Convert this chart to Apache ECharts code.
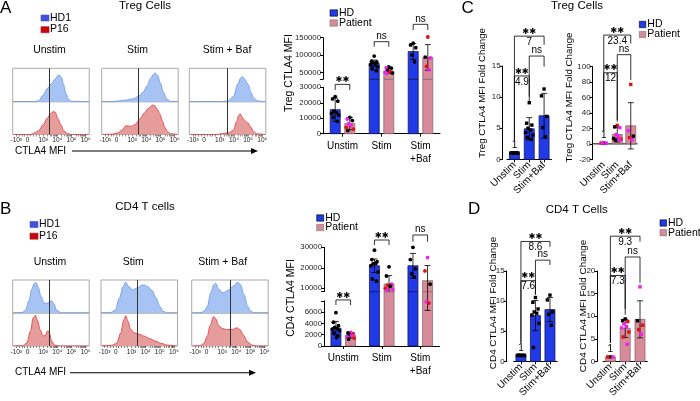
<!DOCTYPE html>
<html>
<head>
<meta charset="utf-8">
<title>CTLA4 MFI</title>
<script src="https://cdn.jsdelivr.net/npm/echarts@6.0.0/dist/echarts.min.js"></script>
<style>
html, body { margin: 0; padding: 0; background: #fff; }
#chart { width: 700px; height: 401px; }
</style>
</head>
<body>
<div id="chart"></div>
<script>
// ---- flow histograms: [position on biexponential CTLA4 axis, relative count]
const histTicks = [1.1, 1.9, 3, 4, 5, 6];
const histTickLabels = ['-10³', '0', '10³', '10⁴', '10⁵', '10⁶'];
const histColumns = ['Unstim', 'Stim', 'Stim + Baf'];
const tregGates = [3.44, 3.42, 3.54];
const cd4Gates = [3.44, 3.4, 3.55];

const tregHD1 = [
  [[0.9,0],[2.4,0],[2.7,0.03],[3.0,0.2],[3.3,0.4],[3.6,0.55],[3.85,0.68],[4.0,0.77],[4.15,0.8],[4.3,0.72],[4.45,0.5],[4.6,0.25],[4.8,0.06],[5.0,0.01],[6.2,0]],
  [[0.9,0],[1.6,0],[2.0,0.02],[2.6,0.05],[3.1,0.09],[3.5,0.18],[3.8,0.3],[4.05,0.47],[4.3,0.7],[4.5,0.82],[4.62,0.86],[4.8,0.78],[5.0,0.55],[5.2,0.28],[5.45,0.08],[5.7,0.01],[6.2,0]],
  [[0.9,0],[3.3,0],[3.6,0.03],[3.95,0.15],[4.3,0.55],[4.45,0.7],[4.6,0.75],[4.75,0.68],[5.0,0.52],[5.2,0.28],[5.4,0.1],[5.7,0.02],[6.2,0]]
];
const tregP16 = [
  [[0.9,0],[2.1,0],[2.4,0.05],[2.7,0.12],[3.0,0.3],[3.3,0.5],[3.5,0.62],[3.7,0.7],[3.85,0.68],[4.05,0.48],[4.25,0.3],[4.45,0.12],[4.7,0.03],[5.0,0],[6.2,0]],
  [[0.9,0],[1.6,0.01],[2.0,0.05],[2.3,0.14],[2.55,0.27],[2.7,0.26],[2.95,0.25],[3.2,0.3],[3.56,0.48],[3.85,0.65],[4.15,0.8],[4.45,0.9],[4.6,0.88],[4.8,0.75],[4.96,0.62],[5.15,0.4],[5.3,0.22],[5.5,0.08],[5.75,0.02],[6.2,0]],
  [[0.9,0],[2.8,0],[3.2,0.03],[3.6,0.05],[3.95,0.12],[4.2,0.4],[4.33,0.58],[4.45,0.63],[4.6,0.52],[4.75,0.42],[5.0,0.35],[5.2,0.22],[5.4,0.08],[5.65,0.02],[6.2,0]]
];
const cd4HD1 = [
  [[0.9,0],[1.5,0.01],[1.75,0.08],[2.0,0.38],[2.2,0.72],[2.35,0.88],[2.49,0.93],[2.65,0.78],[2.85,0.5],[3.05,0.31],[3.2,0.29],[3.4,0.32],[3.6,0.37],[3.75,0.28],[3.96,0.08],[4.3,0],[6.2,0]],
  [[0.9,0],[1.5,0.01],[1.85,0.08],[2.15,0.45],[2.4,0.8],[2.6,0.93],[2.8,0.8],[3.1,0.7],[3.4,0.76],[3.7,0.84],[3.9,0.85],[4.15,0.8],[4.45,0.68],[4.75,0.45],[5.0,0.2],[5.25,0.05],[5.55,0],[6.2,0]],
  [[0.9,0],[1.5,0.01],[1.75,0.06],[1.95,0.2],[2.2,0.62],[2.4,0.85],[2.55,0.9],[2.75,0.72],[3.05,0.61],[3.4,0.68],[3.75,0.8],[4.1,0.93],[4.3,0.85],[4.55,0.55],[4.8,0.2],[5.0,0.06],[5.3,0],[6.2,0]]
];
const cd4P16 = [
  [[0.9,0],[1.6,0.01],[1.85,0.1],[2.1,0.45],[2.3,0.85],[2.45,0.93],[2.6,0.78],[2.8,0.48],[3.0,0.3],[3.15,0.33],[3.33,0.46],[3.45,0.38],[3.6,0.15],[3.8,0.03],[4.1,0],[6.2,0]],
  [[0.9,0.01],[1.6,0.02],[1.95,0.08],[2.25,0.4],[2.45,0.78],[2.6,0.92],[2.75,0.75],[2.95,0.5],[3.2,0.4],[3.5,0.36],[3.9,0.3],[4.3,0.22],[4.7,0.15],[5.1,0.08],[5.5,0.03],[6.0,0.01],[6.2,0]],
  [[0.9,0],[1.4,0.01],[1.7,0.07],[1.95,0.3],[2.15,0.62],[2.4,0.89],[2.55,0.82],[2.75,0.62],[3.0,0.53],[3.3,0.5],[3.7,0.5],[4.05,0.55],[4.25,0.5],[4.5,0.33],[4.8,0.12],[5.1,0.03],[5.4,0],[6.2,0]]
];

// ---- CTLA4 MFI bar charts (mean, SD, individual donors)
const barCats = ['Unstim', 'Stim', 'Stim\n+Baf'];
const tregHdMean = [15500, 76000, 110000];
const tregHdSd = [7500, 9500, 23000];
const tregHdDots = [[24000, 22500, 21000, 14500, 13500, 13000, 12000, 10500, 8000], [97000, 82000, 80000, 78000, 74000, 72000, 66000, 60000, 55000], [134000, 129000, 121000, 100000, 80000]];
const tregPtMean = [6500, 54000, 93000];
const tregPtSd = [4000, 7000, 37000];
const tregPtDots = [[10500, 9500, 8500, 6500, 5500, 4000, 3000, 2000], [66000, 63000, 62000, 56000, 52000, 50000, 48000, 47000], [152000, 94000, 92000, 67000, 57000]];
const tregPtDonor = [[0, 1, 0, 1, 1, 2, 2, 0], [0, 1, 0, 0, 2, 1, 0, 1], [2, 0, 1, 2, 1]];
const tregLowTicks = [0, 10000, 20000, 30000];
const tregHighTicks = [50000, 100000, 150000];

const cd4HdMean = [3150, 21000, 21000];
const cd4HdSd = [1200, 3300, 6000];
const cd4HdDots = [[5900, 4200, 3600, 3300, 3100, 3000, 2700, 2300, 1800, 1500], [28600, 24000, 23000, 22000, 22000, 21000, 18000, 14500, 13500], [30000, 24000, 19500, 17000, 15500]];
const cd4PtMean = [1900, 12100, 13700];
const cd4PtSd = [500, 4100, 7400];
const cd4PtDots = [[2400, 2300, 2200, 2000, 1900, 1600, 1400, 1200], [20500, 16000, 12000, 11500, 11000, 10000, 9500, 9000], [25000, 18500, 12000, 7800, 7600]];
const cd4PtDonor = [[1, 0, 2, 0, 1, 1, 2, 0], [0, 0, 1, 2, 0, 2, 1, 1], [1, 2, 0, 1, 2]];
const cd4LowTicks = [0, 2000, 4000, 6000];
const cd4HighTicks = [10000, 20000, 30000];

// ---- fold change charts
const foldCats = ['Unstim', 'Stim', 'Stim+Baf'];
const tregHdFold = [1, 4.9, 7];
const tregHdFoldSd = [0, 1.8, 3.6];
const tregHdFoldDots = [[1, 1, 1, 1, 1, 1, 1, 1, 1], [9.1, 5.8, 5.5, 5.0, 4.7, 4.3, 3.9, 3.5, 3.2], [11.3, 10.2, 6.9, 5.1, 3.6]];
const tregPtFold = [1, 12, 23.4];
const tregPtFoldSd = [0, 9.6, 30];
const tregPtFoldDots = [[1, 1, 1, 1], [24, 22, 21, 12, 10, 7, 6, 5, 5], [77, 17, 10, 8, 5.5]];
const tregPtFoldDonor = [[0, 2, 1, 1], [2, 0, 1, 1, 1, 0, 2, 0, 1], [2, 1, 0, 2, 1]];
const cd4HdFold = [1, 7.6, 8.6];
const cd4HdFoldSd = [0, 2.5, 2.0];
const cd4HdFoldDots = [[1, 1, 1, 1, 1, 1, 1, 1], [10.6, 9.8, 8.7, 8.2, 8.0, 7.7, 6.3, 2.3], [11.0, 10.2, 8.2, 7.8, 6.0]];
const cd4PtFold = [1, 7.3, 9.3];
const cd4PtFoldSd = [0, 2.0, 4.1];
const cd4PtFoldDots = [[1, 1, 1], [9.4, 9.0, 8.8, 8.3, 7.7, 7.4, 6.5, 5.4, 3.8], [16.5, 9.0, 8.0, 7.0, 6.0]];
const cd4PtFoldDonor = [[0, 2, 1], [0, 0, 2, 1, 1, 1, 2, 2, 1], [1, 0, 2, 2, 1]];
const hdFoldTicks = [0, 5, 10, 15];
const tregPtFoldTicks = [-20, 0, 20, 40, 60, 80, 100];
const cd4PtFoldTicks = [0, 5, 10, 15, 20];

// significance: [fromCat, fromSide, toCat, toSide, line, leftLegEnd, rightLegEnd, mark, foldText]
const tregSigLow = [[0, -1, 0, 1, 31900, 28300, 28300, '**', '']];
const tregSigHigh = [[1, -1, 1, 1, 138500, 124000, 124000, 'ns', ''], [2, -1, 2, 1, 188600, 172200, 172200, 'ns', '']];
const cd4SigLow = [[0, -1, 0, 1, 8150, 7250, 7250, '**', '']];
const cd4SigHigh = [[1, -1, 1, 1, 33550, 31100, 31100, '**', ''], [2, -1, 2, 1, 36000, 32700, 32700, 'ns', '']];
const tregHdSig = [[0, 0, 2, 0, 19.8, 3.1, 18.4, '**', '7'], [1, 0, 2, 0, 16.6, 10.1, 14.9, 'ns', ''], [0, 0, 1, 0, 13.4, 3.1, 9.3, '**', '4.9']];
const tregPtSig = [[0, 0, 2, 0, 141, 18, 130, '**', '23.4'], [1, 0, 2, 0, 115.6, 31, 82.8, 'ns', ''], [0, 0, 1, 0, 92.2, 18, 28.7, '**', '12']];
const cd4HdSig = [[0, 0, 2, 0, 19.9, 3.1, 19.0, '**', '8.6'], [1, 0, 2, 0, 16.8, 11.1, 16.0, 'ns', ''], [0, 0, 1, 0, 13.4, 3.1, 11.1, '**', '7.6']];
const cd4PtSig = [[0, 0, 2, 0, 27.7, 4.1, 26.5, '**', '9.3'], [1, 0, 2, 0, 23.1, 11.6, 17.4, 'ns', ''], [0, 0, 1, 0, 19.0, 4.1, 10.3, '**', '7.3']];

// ---------------------------------------------------------------
const FONT = '"Liberation Sans", Arial, Helvetica, sans-serif';
const STARFONT = '"DejaVu Sans", sans-serif';
const HD_BLUE = '#1f3ae6', HD_EDGE = '#16185a';
const PT_PINK = '#d78b9a', PT_EDGE = '#8a6a72';
const DONOR = ['#000000', '#ee22ee', '#dc1212'];
const BAR_W = 10, CAP = 6, PAIR = 7.3;
const SPREAD = [0, -2.6, 2.6, -1.3, 1.3, -3.6, 3.6, -2, 2, 0.6];

const histMinor = [1.1, 1.3, 1.5, 1.7, 1.9, 2.1, 2.3, 2.5, 2.7];
for (let d = 3; d < 6; d++) for (let k = 1; k < 10; k++) histMinor.push(d + Math.log10(k));
histMinor.push(6);

const grid = [], xAxis = [], yAxis = [], series = [], graphic = [];

function addGrid(rect, xa, ya, boxed) {
  const g = grid.length;
  grid.push({left: rect[0], top: rect[1], width: rect[2], height: rect[3], show: !!boxed,
    borderColor: '#a9a9a9', borderWidth: 1, backgroundColor: 'transparent'});
  xAxis.push(Object.assign({gridIndex: g}, xa));
  yAxis.push(Object.assign({gridIndex: g}, ya));
  return g;
}

function histSeries(g, pts, fill, stroke, gate) {
  return {
    type: 'line', xAxisIndex: g, yAxisIndex: g, data: pts, smooth: 0.35, smoothMonotone: 'x',
    symbol: 'none', silent: true, z: 2,
    lineStyle: {color: stroke, width: 0.9}, areaStyle: {color: fill, opacity: 1},
    markLine: {silent: true, symbol: ['none', 'none'], label: {show: false},
      lineStyle: {color: '#333', width: 1, type: 'solid'}, data: [{xAxis: gate}]}
  };
}

function histPanel(lefts, top, mid, bottom, hd, pt, gates) {
  lefts.forEach((l, k) => {
    const yHidden = {type: 'value', min: 0, max: 1, show: false};
    const g1 = addGrid([l, top, 76.5, mid - top], {type: 'value', min: 0.85, max: 6.25, show: false}, yHidden, true);
    const g2 = addGrid([l, mid, 76.5, bottom - mid], {
      type: 'value', min: 0.85, max: 6.25, splitLine: {show: false}, axisLine: {show: false},
      axisTick: {show: true, customValues: histMinor, length: 2, lineStyle: {color: '#444', width: 0.6}},
      axisLabel: {customValues: histTicks, fontSize: 6.5, margin: 2.5, color: '#222', fontFamily: FONT,
        formatter: v => histTickLabels[histTicks.findIndex(t => Math.abs(t - v) < 1e-6)]}
    }, yHidden, true);
    series.push(histSeries(g1, hd[k], '#a7c3f4', '#6f9de9', gates[k]));
    series.push(histSeries(g2, pt[k], '#e79c9c', '#e0484b', gates[k]));
  });
}

function span(api, s, a, b) {
  if (b <= s.min || a >= s.max) return null;
  const bottom = api.coord([0, Math.max(a, s.min)])[1];
  let top = api.coord([0, Math.min(b, s.max)])[1];
  if (b > s.max) top -= s.gapUp || 0;
  return {top: top, bottom: bottom, capTop: b <= s.max, capBottom: a >= s.min};
}

function textEl(x, y, s, size, family) {
  return {type: 'text', style: {text: s, x: x, y: y, fill: '#000', fontSize: size, fontFamily: family,
    align: 'center', verticalAlign: 'middle', textAlign: 'center', textVerticalAlign: 'middle'}};
}

function barPanel(p) {
  p.segs.forEach((s, si) => {
    const last = si === p.segs.length - 1;
    const g = addGrid(s.rect, {
      type: 'category', data: p.cats, show: si === 0,
      axisLine: {show: !s.noXLine, onZero: false, lineStyle: {color: '#000', width: 1}},
      axisTick: {show: !s.noXLine, alignWithLabel: true, length: 3, lineStyle: {color: '#000', width: 1}},
      axisLabel: {interval: 0, rotate: p.rot || 0, fontSize: p.catFont || 10, margin: p.catMargin || 6,
        lineHeight: 13, color: '#000', fontFamily: FONT}
    }, {
      type: 'value', min: s.min, max: s.max, offset: p.yOffset || 0, splitLine: {show: false},
      axisLine: {show: true, onZero: false, lineStyle: {color: '#000', width: 1}},
      axisTick: {show: true, length: 3, customValues: s.ticks || s.labels, lineStyle: {color: '#000', width: 1}},
      axisLabel: {customValues: s.labels, formatter: v => String(v), fontSize: p.tickFont || 7.8, margin: 2,
        color: '#222', fontFamily: FONT}
    });
    const lo = si === 0 ? -Infinity : p.segs[si - 1].max;
    const hi = last ? Infinity : s.max;
    const off = p.pairOff || 0;
    p.groups.forEach((gr, gi) => {
      // bars
      series.push({
        type: 'custom', xAxisIndex: g, yAxisIndex: g, clip: false, silent: true, z: 2,
        data: gr.mean.map((m, i) => [i, m]),
        renderItem(params, api) {
          const i = api.value(0), m = api.value(1);
          const kids = [];
          const cx = api.coord([i, 0])[0] + gr.side * off;
          if (s.zeroLine && gi === 0 && i === 0) {
            const band = api.size([1, 0])[0];
            const y0 = api.coord([0, 0])[1];
            const xr = api.coord([p.cats.length - 1, 0])[0] + band / 2;
            kids.push({type: 'line', shape: {x1: cx - band / 2 - (p.yOffset || 0), y1: y0, x2: xr, y2: y0},
              style: {stroke: '#000', lineWidth: 1}});
          }
          const sp = span(api, s, 0, m);
          if (sp) {
            kids.push({type: 'rect', shape: {x: cx - BAR_W / 2, y: sp.top, width: BAR_W, height: sp.bottom - sp.top},
              style: {fill: gr.color, stroke: gr.stroke, lineWidth: 0.8}});
            if (p.baseLabel && i === 0) kids.push(textEl(cx, sp.top - 7.5, String(m), 10, FONT));
          }
          return {type: 'group', children: kids};
        }
      });
      // error bars
      series.push({
        type: 'custom', xAxisIndex: g, yAxisIndex: g, clip: false, silent: true, z: 3,
        data: gr.mean.map((m, i) => [i, m, gr.sd[i]]),
        renderItem(params, api) {
          const i = api.value(0), m = api.value(1), sd = api.value(2);
          if (!sd) return null;
          const sp = span(api, s, m - sd, m + sd);
          if (!sp) return null;
          const cx = api.coord([i, 0])[0] + gr.side * off;
          const st = {stroke: '#000', lineWidth: 0.8};
          const kids = [{type: 'line', shape: {x1: cx, y1: sp.bottom, x2: cx, y2: sp.top}, style: st}];
          if (sp.capTop) kids.push({type: 'line', shape: {x1: cx - CAP / 2, y1: sp.top, x2: cx + CAP / 2, y2: sp.top}, style: st});
          if (sp.capBottom) kids.push({type: 'line', shape: {x1: cx - CAP / 2, y1: sp.bottom, x2: cx + CAP / 2, y2: sp.bottom}, style: st});
          return {type: 'group', children: kids};
        }
      });
      // individual donors
      const pts = [];
      gr.dots.forEach((vals, i) => vals.forEach((v, k) => {
        if (v > lo && v <= hi) pts.push([i, v, gr.donor ? gr.donor[i][k] : 0, k]);
      }));
      series.push({
        type: 'custom', xAxisIndex: g, yAxisIndex: g, clip: false, silent: true, z: 4,
        data: pts,
        renderItem(params, api) {
          const i = api.value(0), v = api.value(1), d = api.value(2), k = api.value(3);
          const c = api.coord([i, v]);
          const x = c[0] + gr.side * off + SPREAD[k % SPREAD.length] * (p.spread || 1);
          const fill = DONOR[d];
          if (p.square) return {type: 'rect', shape: {x: x - 1.7, y: c[1] - 1.7, width: 3.4, height: 3.4}, style: {fill: fill}};
          return {type: 'circle', shape: {cx: x, cy: c[1], r: 1.9}, style: {fill: fill}};
        }
      });
    });
    const sig = p.sig[si] || [];
    if (sig.length) {
      series.push({
        type: 'custom', xAxisIndex: g, yAxisIndex: g, clip: false, silent: true, z: 5,
        data: sig.map(b => [b[0], b[4]]),
        renderItem(params, api) {
          const b = sig[params.dataIndex];
          const xa = api.coord([b[0], 0])[0] + b[1] * off;
          const xb = api.coord([b[2], 0])[0] + b[3] * off;
          const yl = api.coord([0, b[4]])[1], ya = api.coord([0, b[5]])[1], yb = api.coord([0, b[6]])[1];
          const xm = (xa + xb) / 2;
          const star = b[7] === '**';
          const kids = [{type: 'polyline', shape: {points: [[xa, ya], [xa, yl], [xb, yl], [xb, yb]]},
            style: {stroke: '#000', lineWidth: 0.8, fill: 'none'}}];
          kids.push(textEl(xm, yl - (star ? 4.5 : 5.5), star ? '✱✱' : b[7], star ? 8.3 : 10, star ? STARFONT : FONT));
          if (b[8]) kids.push(textEl(xm, yl + 5.8, b[8], 10, FONT));
          return {type: 'group', children: kids};
        }
      });
    }
  });
}

// ---- panels A and B: histograms
histPanel([12.7, 101.7, 189.3], 68.3, 101.7, 134.5, tregHD1, tregP16, tregGates);
histPanel([12.7, 101, 191.7], 280, 313, 346, cd4HD1, cd4P16, cd4Gates);

// ---- panels A and B: MFI bars with broken axis
const hdGroup = (mean, sd, dots) => ({mean: mean, sd: sd, dots: dots, donor: null, side: -1, color: HD_BLUE, stroke: HD_EDGE});
const ptGroup = (mean, sd, dots, donor, side) => ({mean: mean, sd: sd, dots: dots, donor: donor, side: side, color: PT_PINK, stroke: PT_EDGE});

barPanel({
  cats: barCats, pairOff: PAIR,
  segs: [
    {rect: [323, 87.3, 117, 46.4], min: 0, max: 30000, gapUp: 8, labels: tregLowTicks},
    {rect: [323, 37.7, 117, 41.6], min: 30000, max: 150000, labels: tregHighTicks, ticks: [30000].concat(tregHighTicks)}
  ],
  groups: [hdGroup(tregHdMean, tregHdSd, tregHdDots), ptGroup(tregPtMean, tregPtSd, tregPtDots, tregPtDonor, 1)],
  sig: [tregSigLow, tregSigHigh]
});
barPanel({
  cats: barCats, pairOff: PAIR,
  segs: [
    {rect: [324, 300.8, 115.5, 45.2], min: 0, max: 8000, gapUp: 9.2, labels: cd4LowTicks, ticks: cd4LowTicks.concat([8000])},
    {rect: [324, 247.3, 115.5, 44.3], min: 8400, max: 30000, labels: cd4HighTicks, ticks: [8400].concat(cd4HighTicks)}
  ],
  groups: [hdGroup(cd4HdMean, cd4HdSd, cd4HdDots), ptGroup(cd4PtMean, cd4PtSd, cd4PtDots, cd4PtDonor, 1)],
  sig: [cd4SigLow, cd4SigHigh]
});

// ---- panels C and D: fold change
function foldPanel(rect, min, max, ticks, yOffset, grp, sig, zeroLine) {
  barPanel({
    cats: foldCats, rot: 45, catFont: 10, catMargin: 4, tickFont: 8, yOffset: yOffset, baseLabel: true, square: true, spread: 1,
    segs: [{rect: rect, min: min, max: max, labels: ticks, zeroLine: zeroLine, noXLine: zeroLine}],
    groups: [grp], sig: [sig]
  });
}
foldPanel([507, 66, 44.5, 93.3], 0, 15, hdFoldTicks, 4.3,
  {mean: tregHdFold, sd: tregHdFoldSd, dots: tregHdFoldDots, donor: null, side: 0, color: HD_BLUE, stroke: HD_EDGE}, tregHdSig, false);
foldPanel([597, 66.7, 40.5, 92.6], -20, 100, tregPtFoldTicks, 4.3,
  {mean: tregPtFold, sd: tregPtFoldSd, dots: tregPtFoldDots, donor: tregPtFoldDonor, side: 0, color: PT_PINK, stroke: PT_EDGE}, tregPtSig, true);
foldPanel([513.7, 271, 43.5, 93], 0, 15, hdFoldTicks, 7,
  {mean: cd4HdFold, sd: cd4HdFoldSd, dots: cd4HdFoldDots, donor: null, side: 0, color: HD_BLUE, stroke: HD_EDGE}, cd4HdSig, false);
foldPanel([603, 271, 44.4, 93], 0, 20, cd4PtFoldTicks, 5.7,
  {mean: cd4PtFold, sd: cd4PtFoldSd, dots: cd4PtFoldDots, donor: cd4PtFoldDonor, side: 0, color: PT_PINK, stroke: PT_EDGE}, cd4PtSig, false);

// ---- text, legends, arrows
function txt(x, y, s, size, o) {
  o = o || {};
  const al = o.align || 'center';
  return {type: 'text', x: x, y: y, rotation: o.rot || 0, silent: true,
    style: {text: s, fill: '#000', fontSize: size, fontFamily: FONT,
      align: al, verticalAlign: 'middle', textAlign: al, textVerticalAlign: 'middle'}};
}
function sq(x, y, w, h, fill, stroke) {
  return {type: 'rect', silent: true, shape: {x: x, y: y, width: w, height: h},
    style: {fill: fill, stroke: stroke || fill, lineWidth: 0.6}};
}
function arrow(x1, x2, y) {
  graphic.push({type: 'line', silent: true, shape: {x1: x1, y1: y, x2: x2 - 3, y2: y}, style: {stroke: '#000', lineWidth: 1.1}});
  graphic.push({type: 'polygon', silent: true, shape: {points: [[x2, y], [x2 - 7, y - 3], [x2 - 7, y + 3]]}, style: {fill: '#000'}});
}

// panel letters and titles
graphic.push(txt(0, 8, 'A', 17, {align: 'left'}));
graphic.push(txt(0, 209, 'B', 17, {align: 'left'}));
graphic.push(txt(461.5, 8.5, 'C', 17, {align: 'left'}));
graphic.push(txt(468, 209, 'D', 17, {align: 'left'}));
graphic.push(txt(145, 5.5, 'Treg Cells', 11.5));
graphic.push(txt(145, 207, 'CD4 T cells', 11.5));
graphic.push(txt(577, 5.5, 'Treg Cells', 11.5));
graphic.push(txt(576.7, 209.5, 'CD4 T Cells', 11.5));

// histogram legends and column labels
graphic.push(sq(41, 15, 8, 6, '#4352d6'), txt(50, 18, 'HD1', 10.5, {align: 'left'}));
graphic.push(sq(41, 26.7, 8, 6, '#c4080d'), txt(50, 29.5, 'P16', 10.5, {align: 'left'}));
graphic.push(sq(30, 221.5, 8, 6, '#4352d6'), txt(39, 224.5, 'HD1', 10.5, {align: 'left'}));
graphic.push(sq(30, 233.2, 8, 6, '#c4080d'), txt(39, 236, 'P16', 10.5, {align: 'left'}));
[49.5, 137.5, 227].forEach((x, i) => graphic.push(txt(x, 50, histColumns[i], 10.5)));
[50, 133.3, 222.7].forEach((x, i) => graphic.push(txt(x, 262.3, histColumns[i], 10.5)));
graphic.push(txt(15, 151, 'CTLA4 MFI', 10, {align: 'left'}));
graphic.push(txt(15, 372.7, 'CTLA4 MFI', 10, {align: 'left'}));
arrow(72, 258, 151);
arrow(70, 256, 372.7);

// bar chart legends
function barLegend(x, y1, y2, w) {
  graphic.push(sq(x, y1 - 3.2, w, 6.4, HD_BLUE, '#000'), txt(x + w + 1.5, y1, 'HD', 10.5, {align: 'left'}));
  graphic.push(sq(x, y2 - 3.2, w, 6.4, PT_PINK, '#777'), txt(x + w + 1.5, y2, 'Patient', 10.5, {align: 'left'}));
}
barLegend(330, 13, 23, 7.5);
barLegend(316.7, 218, 227.5, 7);
barLegend(639.3, 24.5, 34.5, 6.5);
barLegend(660, 223, 232.7, 6.5);

// y axis titles
graphic.push(txt(289.5, 73, 'Treg CTLA4 MFI', 10.5, {rot: Math.PI / 2}));
graphic.push(txt(290.7, 298, 'CD4 CTLA4 MFI', 10.5, {rot: Math.PI / 2}));
graphic.push(txt(482, 93, 'Treg CTLA4 MFI Fold Change', 9.7, {rot: Math.PI / 2}));
graphic.push(txt(569, 97.5, 'Treg CTLA4 MFI Fold Change', 9.7, {rot: Math.PI / 2}));
graphic.push(txt(493.3, 303, 'CD4 CTLA4 MFI Fold Change', 9.9, {rot: Math.PI / 2}));
graphic.push(txt(583.3, 306, 'CD4 CTLA4 MFI Fold Change', 9.9, {rot: Math.PI / 2}));

const chart = echarts.init(document.getElementById('chart'), null, {width: 700, height: 401});
chart.setOption({
  animation: false,
  backgroundColor: '#ffffff',
  textStyle: {fontFamily: FONT},
  grid: grid,
  xAxis: xAxis,
  yAxis: yAxis,
  series: series,
  graphic: {elements: graphic}
});
</script>
</body>
</html>
